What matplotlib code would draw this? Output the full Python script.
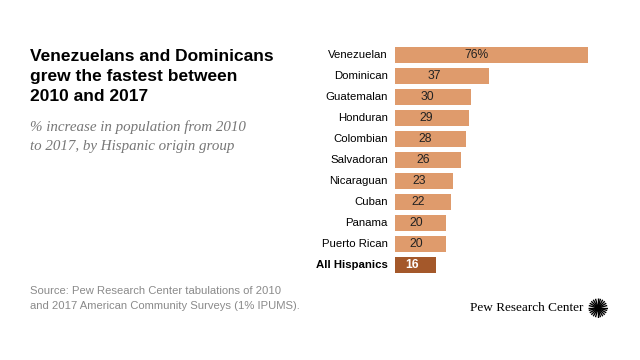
import matplotlib
matplotlib.use("Agg")
import matplotlib.pyplot as plt
import numpy as np

# data
groups = ["Venezuelan", "Dominican", "Guatemalan", "Honduran", "Colombian",
          "Salvadoran", "Nicaraguan", "Cuban", "Panama", "Puerto Rican",
          "All Hispanics"]
increase = [76, 37, 30, 29, 28, 26, 23, 22, 20, 20, 16]
value_labels = ["76%", "37", "30", "29", "28", "26", "23", "22", "20", "20", "16"]

light = "#DF9B6C"
dark = "#A4582A"
sans = "Liberation Sans"

fig = plt.figure(figsize=(6.4, 3.6), dpi=100)
fig.patch.set_facecolor("white")

ax = fig.add_axes([395 / 640, 1 - 275.8 / 360, 193 / 640, 231 / 360])
y = np.arange(len(groups))
colors = [light] * (len(groups) - 1) + [dark]
ax.barh(y, increase, height=0.76, color=colors, edgecolor="none")
ax.set_xlim(0, 76)
ax.set_ylim(len(groups) - 0.5, -0.5)
ax.axis("off")

for i, (g, v, lab) in enumerate(zip(groups, increase, value_labels)):
    last = i == len(groups) - 1
    ax.text(-2.8, i, g, ha="right", va="center", fontsize=8.2,
            family=sans, color="black",
            fontweight="bold" if last else "normal")
    ax.text(v * 0.42, i, lab, ha="center", va="center", fontsize=8.7,
            family=sans, color="white" if last else "#222222",
            fontweight="bold" if last else "normal")

# titles
fig.text(30 / 640, 1 - 49 / 360,
         "Venezuelans and Dominicans\ngrew the fastest between\n2010 and 2017",
         ha="left", va="top", fontsize=12.5, fontweight="bold", family=sans,
         linespacing=1.4, color="black")
fig.text(30 / 640, 1 - 120 / 360,
         "% increase in population from 2010\nto 2017, by Hispanic origin group",
         ha="left", va="top", fontsize=10.8, style="italic",
         family="Liberation Serif", color="#777777", linespacing=1.6)

# source
fig.text(30 / 640, 1 - 286 / 360,
         "Source: Pew Research Center tabulations of 2010\n"
         "and 2017 American Community Surveys (1% IPUMS).",
         ha="left", va="top", fontsize=8.1, family=sans, color="#8a8a8a",
         linespacing=1.6)

# logo
fig.text(583 / 640, 1 - 308 / 360, "Pew Research Center", ha="right",
         va="center", fontsize=9.5, family="Liberation Serif", color="black")
lax = fig.add_axes([588 / 640, 1 - 318 / 360, 20 / 640, 20 / 360])
ang = np.linspace(0, 2 * np.pi, 24, endpoint=False)
for a in ang:
    lax.plot([0.25 * np.cos(a), np.cos(a)], [0.25 * np.sin(a), np.sin(a)],
             color="black", linewidth=1.0, solid_capstyle="butt")
lax.add_patch(plt.Circle((0, 0), 0.3, color="black"))
lax.set_xlim(-1.05, 1.05)
lax.set_ylim(-1.05, 1.05)
lax.set_aspect("equal")
lax.axis("off")

fig.savefig("out.png", dpi=100, facecolor="white")
